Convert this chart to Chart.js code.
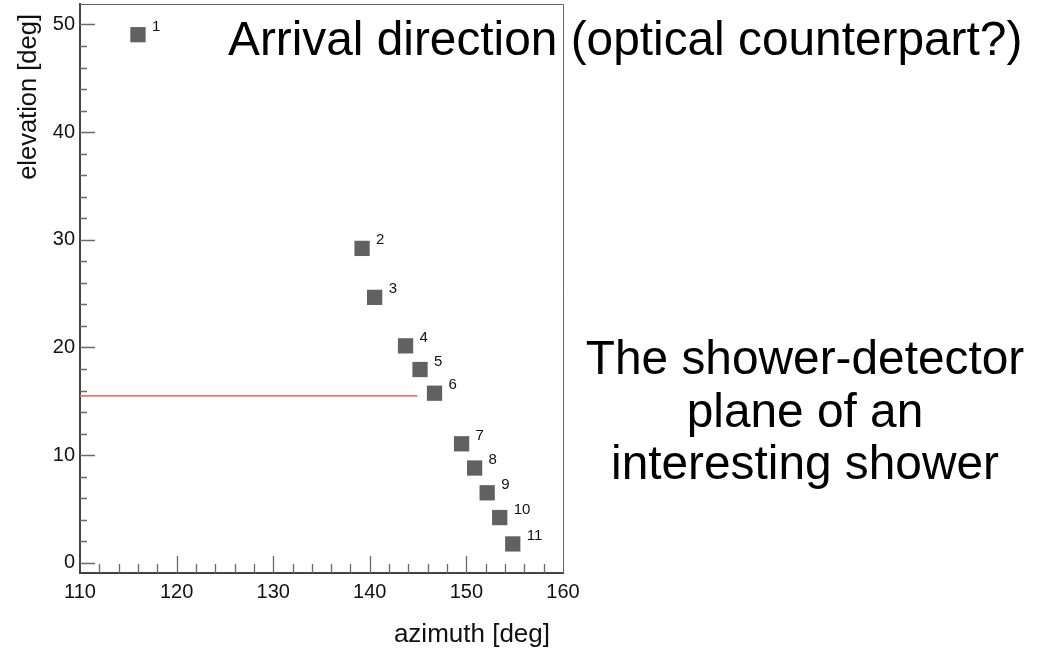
<!DOCTYPE html>
<html>
<head>
<meta charset="utf-8">
<title>Arrival direction</title>
<script src="https://cdn.jsdelivr.net/npm/chart.js@4.4.1/dist/chart.umd.min.js"></script>
<style>
  html, body { margin: 0; padding: 0; background: #ffffff; }
  #wrap { width: 1046px; height: 648px; position: relative; }
</style>
</head>
<body>
<div id="wrap"><canvas id="c" width="1046" height="648"></canvas></div>
<script>
// Station hits: azimuth / elevation of each triggered pixel, in degrees
const stationIds = ['1', '2', '3', '4', '5', '6', '7', '8', '9', '10', '11'];
const azimuth    = [116.0, 139.2, 140.5, 143.7, 145.2, 146.7, 149.5, 150.85, 152.15, 153.45, 154.8];
const elevation  = [49.05, 29.2, 24.65, 20.15, 17.95, 15.75, 11.05, 8.8, 6.5, 4.2, 1.75];

// Arrival direction line (optical counterpart)
const arrivalAzimuth   = [110, 144.9];
const arrivalElevation = [15.5, 15.5];

// Axis ranges and tick spacing
const xRange = [110, 160];
const yRange = [-0.95, 51.9];
const majorStep = 10;
const minorStep = 2;

// Free text drawn on the canvas
const titleText = 'Arrival direction (optical counterpart?)';
const sideText = ['The shower-detector', 'plane of an', 'interesting shower'];
const xTitle = 'azimuth [deg]';
const yTitle = 'elevation [deg]';

const FONT = '"Liberation Sans", Arial, Helvetica, sans-serif';

const hits = azimuth.map((a, i) => ({ x: a, y: elevation[i] }));
const arrival = arrivalAzimuth.map((a, i) => ({ x: a, y: arrivalElevation[i] }));

// Frame, inward ticks, point numbers and free text
const framePlugin = {
  id: 'frame',
  afterDatasetsDraw(chart) {
    const { ctx, chartArea: ca, scales } = chart;
    const xs = scales.x, ys = scales.y;
    ctx.save();

    // thin frame on top and right
    ctx.strokeStyle = '#666666';
    ctx.lineWidth = 1;
    ctx.beginPath();
    ctx.moveTo(ca.left, ca.top + 0.5);
    ctx.lineTo(ca.right + 0.5, ca.top + 0.5);
    ctx.lineTo(ca.right + 0.5, ca.bottom);
    ctx.stroke();

    // ticks pointing into the plot
    ctx.strokeStyle = '#6a6a6a';
    ctx.lineWidth = 1.3;
    ctx.beginPath();
    for (let v = Math.ceil(xRange[0] / minorStep) * minorStep; v < xRange[1] - 1e-6; v += minorStep) {
      if (v === xRange[0]) continue;
      const px = Math.round(xs.getPixelForValue(v)) + 0.5;
      const major = Math.abs(v / majorStep - Math.round(v / majorStep)) < 1e-6;
      const len = major ? 17 : 9;
      ctx.moveTo(px, ca.bottom);
      ctx.lineTo(px, ca.bottom - len);
    }
    for (let v = Math.ceil(yRange[0] / minorStep) * minorStep; v <= yRange[1]; v += minorStep) {
      const py = Math.round(ys.getPixelForValue(v)) + 0.5;
      const major = Math.abs(v / majorStep - Math.round(v / majorStep)) < 1e-6;
      const len = major ? 15 : 7;
      ctx.moveTo(ca.left, py);
      ctx.lineTo(ca.left + len, py);
    }
    ctx.stroke();

    // number next to each hit
    const meta = chart.getDatasetMeta(0);
    ctx.fillStyle = '#111111';
    ctx.font = '15px ' + FONT;
    ctx.textAlign = 'left';
    ctx.textBaseline = 'alphabetic';
    meta.data.forEach((pt, i) => {
      ctx.fillText(stationIds[i], pt.x + 14, pt.y - 4);
    });

    // axis titles
    ctx.fillStyle = '#111111';
    ctx.font = '26px ' + FONT;
    ctx.textAlign = 'right';
    ctx.fillText(xTitle, ca.right - 13, 642);
    ctx.save();
    ctx.font = '25.5px ' + FONT;
    ctx.translate(36, 14);
    ctx.rotate(-Math.PI / 2);
    ctx.textAlign = 'right';
    ctx.fillText(yTitle, 0, 0);
    ctx.restore();

    // title and side note
    ctx.fillStyle = '#000000';
    ctx.font = '47.8px ' + FONT;
    ctx.textAlign = 'left';
    ctx.fillText(titleText, 228, 55);
    ctx.textAlign = 'center';
    const baselines = [374, 427, 479];
    sideText.forEach((line, i) => ctx.fillText(line, 805, baselines[i]));

    ctx.restore();
  }
};

new Chart(document.getElementById('c'), {
  type: 'scatter',
  data: {
    datasets: [
      {
        label: 'hits',
        data: hits,
        pointStyle: 'rect',
        pointRadius: 10.8,
        pointHoverRadius: 10.8,
        backgroundColor: '#616161',
        borderColor: '#616161',
        borderWidth: 0,
        showLine: false,
        order: 1
      },
      {
        label: 'arrival',
        data: arrival,
        showLine: true,
        borderColor: '#f47070',
        borderWidth: 1.6,
        pointRadius: 0,
        pointHoverRadius: 0,
        fill: false,
        order: 2
      }
    ]
  },
  options: {
    responsive: false,
    animation: false,
    events: [],
    layout: { autoPadding: false, padding: { left: 0, top: 4, right: 483, bottom: 0 } },
    plugins: {
      legend: { display: false },
      tooltip: { enabled: false },
      title: { display: false }
    },
    scales: {
      x: {
        type: 'linear',
        min: xRange[0],
        max: xRange[1],
        afterFit(scale) {
          scale.height = 75;
          scale.paddingLeft = 0;
          scale.paddingRight = 0;
        },
        grid: { display: false, drawTicks: false },
        border: { display: true, color: '#444444', width: 2 },
        ticks: {
          stepSize: majorStep,
          includeBounds: false,
          padding: 7,
          color: '#111111',
          font: { family: FONT, size: 20 }
        }
      },
      y: {
        type: 'linear',
        min: yRange[0],
        max: yRange[1],
        afterFit(scale) {
          scale.width = 80;
          scale.paddingTop = 0;
          scale.paddingBottom = 0;
        },
        grid: { display: false, drawTicks: false },
        border: { display: true, color: '#444444', width: 2 },
        ticks: {
          stepSize: majorStep,
          includeBounds: false,
          padding: 5,
          color: '#111111',
          font: { family: FONT, size: 20 }
        }
      }
    }
  },
  plugins: [framePlugin]
});
</script>
</body>
</html>
